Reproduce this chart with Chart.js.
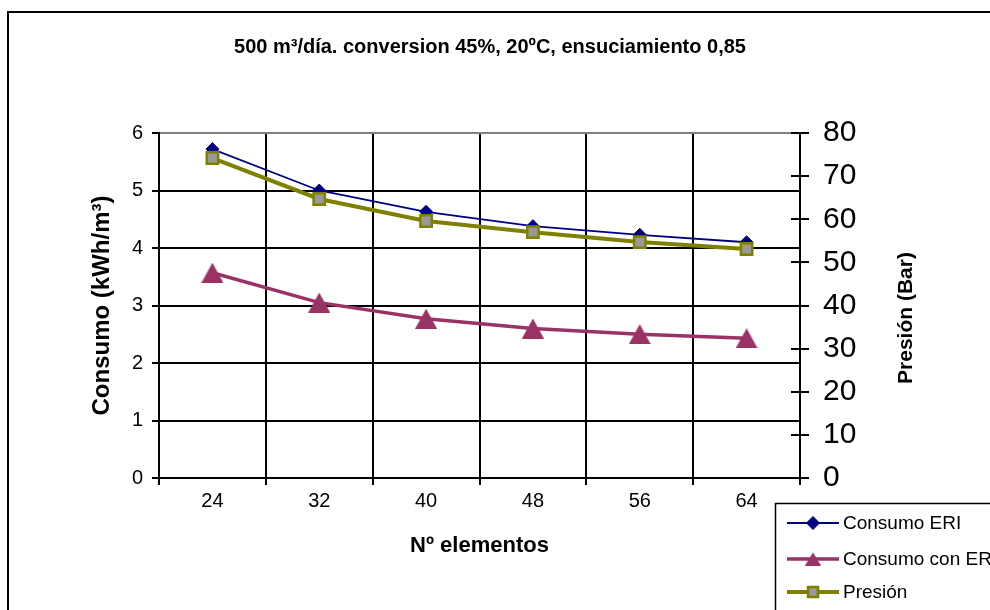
<!DOCTYPE html>
<html>
<head>
<meta charset="utf-8">
<script src="https://cdn.jsdelivr.net/npm/chart.js@4.4.1/dist/chart.umd.min.js"></script>
<style>
  html, body { margin: 0; padding: 0; background: #ffffff; }
  canvas { display: block; }
</style>
</head>
<body>
<canvas id="chart" width="990" height="610"></canvas>
<script>
// Number of membrane elements in the train
const elementos = ['24', '32', '40', '48', '56', '64'];

// Specific energy consumption (kWh/m³)
const consumoERI = [5.72, 5.00, 4.63, 4.38, 4.23, 4.10];
const consumoConERI = [3.57, 3.05, 2.77, 2.60, 2.50, 2.43];

// Feed pressure (bar)
const presion = [74.2, 64.7, 59.6, 57.0, 54.7, 53.1];

// Axis tick values
const consumoTicks = [0, 1, 2, 3, 4, 5, 6];
const presionTicks = [0, 10, 20, 30, 40, 50, 60, 70, 80];

// Texts
const chartTitle = '500 m³/día. conversion 45%, 20ºC, ensuciamiento 0,85';
const xTitle = 'Nº elementos';
const yTitle = 'Consumo (kWh/m³)';
const y2Title = 'Presión (Bar)';
const seriesNames = ['Consumo ERI', 'Consumo con ERI', 'Presión'];

const FONT = "'Liberation Sans', Arial, Helvetica, sans-serif";
Chart.defaults.font.family = FONT;
Chart.defaults.color = '#000000';

const NAVY = '#000080';
const PLUM = '#993366';
const OLIVE = '#808000';
const GREY = '#999999';

// Triangle marker centred on its bounding box rather than its centroid
function triangleMarker(w, h, color) {
  const c = document.createElement('canvas');
  c.width = w;
  c.height = h;
  const g = c.getContext('2d');
  g.fillStyle = color;
  g.beginPath();
  g.moveTo(w / 2, 0);
  g.lineTo(w, h);
  g.lineTo(0, h);
  g.closePath();
  g.fill();
  return c;
}
const plotTriangle = triangleMarker(22, 20, PLUM);
const legendTriangle = triangleMarker(16, 13, PLUM);

// Frame, title, right-axis title, inner ticks of the pressure axis and the legend box
const decorations = {
  id: 'decorations',
  beforeDraw(chart) {
    const ctx = chart.ctx;
    ctx.save();
    ctx.fillStyle = '#ffffff';
    ctx.fillRect(0, 0, chart.width, chart.height);
    ctx.restore();
  },
  afterDraw(chart) {
    const ctx = chart.ctx;
    const area = chart.chartArea;
    ctx.save();

    // outer frame of the chart object
    ctx.strokeStyle = '#000000';
    ctx.lineWidth = 2;
    ctx.strokeRect(8, 12, 1100, 800);

    // chart title
    ctx.fillStyle = '#000000';
    ctx.font = 'bold 20px ' + FONT;
    ctx.textAlign = 'center';
    ctx.textBaseline = 'middle';
    ctx.fillText(chartTitle, 490, 47);

    // secondary axis title, reading bottom to top
    ctx.save();
    ctx.translate(906, 318);
    ctx.rotate(-Math.PI / 2);
    ctx.font = 'bold 21px ' + FONT;
    ctx.fillText(y2Title, 0, 0);
    ctx.restore();

    // pressure axis ticks also cross into the plot
    const y2 = chart.scales.y2;
    ctx.strokeStyle = '#000000';
    ctx.lineWidth = 2;
    y2.ticks.forEach(t => {
      const py = Math.round(y2.getPixelForValue(t.value));
      ctx.beginPath();
      ctx.moveTo(area.right - 9, py);
      ctx.lineTo(area.right, py);
      ctx.stroke();
    });

    // legend
    const lx = 775.5, ly = 503.5;
    ctx.lineWidth = 1.5;
    ctx.strokeStyle = '#000000';
    ctx.fillStyle = '#ffffff';
    ctx.fillRect(lx, ly, 300, 200);
    ctx.strokeRect(lx, ly, 300, 200);
    const rows = [523, 559, 592];
    chart.data.datasets.forEach((ds, i) => {
      const y = rows[i];
      ctx.strokeStyle = ds.borderColor;
      ctx.lineWidth = ds.borderWidth;
      ctx.beginPath();
      ctx.moveTo(787, y);
      ctx.lineTo(839, y);
      ctx.stroke();
      ctx.fillStyle = ds.pointBackgroundColor;
      ctx.strokeStyle = ds.pointBorderColor;
      ctx.lineWidth = ds.pointBorderWidth;
      Chart.helpers.drawPoint(ctx, {
        pointStyle: ds.legendStyle || ds.pointStyle,
        radius: ds.legendRadius,
        borderWidth: ds.pointBorderWidth,
        rotation: 0
      }, 813, y);
      ctx.fillStyle = '#000000';
      ctx.font = '19px ' + FONT;
      ctx.textAlign = 'left';
      ctx.textBaseline = 'middle';
      ctx.fillText(ds.label, 843, y + 1);
    });

    ctx.restore();
  }
};

new Chart(document.getElementById('chart'), {
  type: 'line',
  data: {
    labels: elementos,
    datasets: [
      {
        label: seriesNames[0],
        data: consumoERI,
        yAxisID: 'y',
        order: 3,
        borderColor: NAVY,
        backgroundColor: NAVY,
        borderWidth: 1.8,
        pointStyle: 'rectRot',
        pointRadius: 6.5,
        legendRadius: 6.5,
        pointBackgroundColor: NAVY,
        pointBorderColor: NAVY,
        pointBorderWidth: 1,
        tension: 0
      },
      {
        label: seriesNames[1],
        data: consumoConERI,
        yAxisID: 'y',
        order: 2,
        borderColor: PLUM,
        backgroundColor: PLUM,
        borderWidth: 3.5,
        pointStyle: plotTriangle,
        legendStyle: legendTriangle,
        pointRadius: 11,
        legendRadius: 8,
        pointBackgroundColor: PLUM,
        pointBorderColor: PLUM,
        pointBorderWidth: 1,
        tension: 0
      },
      {
        label: seriesNames[2],
        data: presion,
        yAxisID: 'y2',
        order: 1,
        borderColor: OLIVE,
        backgroundColor: GREY,
        borderWidth: 4,
        pointStyle: 'rect',
        pointRadius: 8,
        legendRadius: 7,
        pointBackgroundColor: GREY,
        pointBorderColor: OLIVE,
        pointBorderWidth: 2.5,
        tension: 0
      }
    ]
  },
  options: {
    responsive: false,
    animation: false,
    events: [],
    layout: { padding: { top: 133, left: 0, right: 0, bottom: 0 }, autoPadding: false },
    plugins: {
      legend: { display: false },
      title: { display: false },
      tooltip: { enabled: false }
    },
    scales: {
      x: {
        offset: true,
        grid: { offset: true, color: '#000000', lineWidth: 2, tickLength: 7, tickColor: '#000000' },
        border: { color: '#000000', width: 2 },
        ticks: { font: { size: 20 }, padding: 4, color: '#000000', maxRotation: 0, autoSkip: false },
        title: { display: true, text: xTitle, font: { size: 22, weight: 'bold' }, padding: { top: 0, bottom: 51 } },
        afterFit: s => { s.height = 132; }
      },
      y: {
        position: 'left',
        min: consumoTicks[0],
        max: consumoTicks[consumoTicks.length - 1],
        afterBuildTicks: s => { s.ticks = consumoTicks.map(v => ({ value: v })); },
        grid: {
          color: c => (c.tick && c.tick.value === consumoTicks[consumoTicks.length - 1]) ? '#808080' : '#000000',
          tickColor: '#000000',
          lineWidth: 2,
          tickLength: 7
        },
        border: { color: '#000000', width: 2 },
        ticks: { font: { size: 20 }, padding: 9, color: '#000000' },
        title: { display: true, text: yTitle, font: { size: 24, weight: 'bold' }, padding: { top: 88, bottom: 0 } },
        afterFit: s => { s.width = 159; }
      },
      y2: {
        position: 'right',
        min: presionTicks[0],
        max: presionTicks[presionTicks.length - 1],
        afterBuildTicks: s => { s.ticks = presionTicks.map(v => ({ value: v })); },
        grid: { drawOnChartArea: false, color: '#000000', tickColor: '#000000', lineWidth: 2, tickLength: 9 },
        border: { color: '#000000', width: 2 },
        ticks: { font: { size: 30 }, padding: 14, color: '#000000' },
        afterFit: s => { s.width = 190; }
      }
    }
  },
  plugins: [decorations]
});
</script>
</body>
</html>
